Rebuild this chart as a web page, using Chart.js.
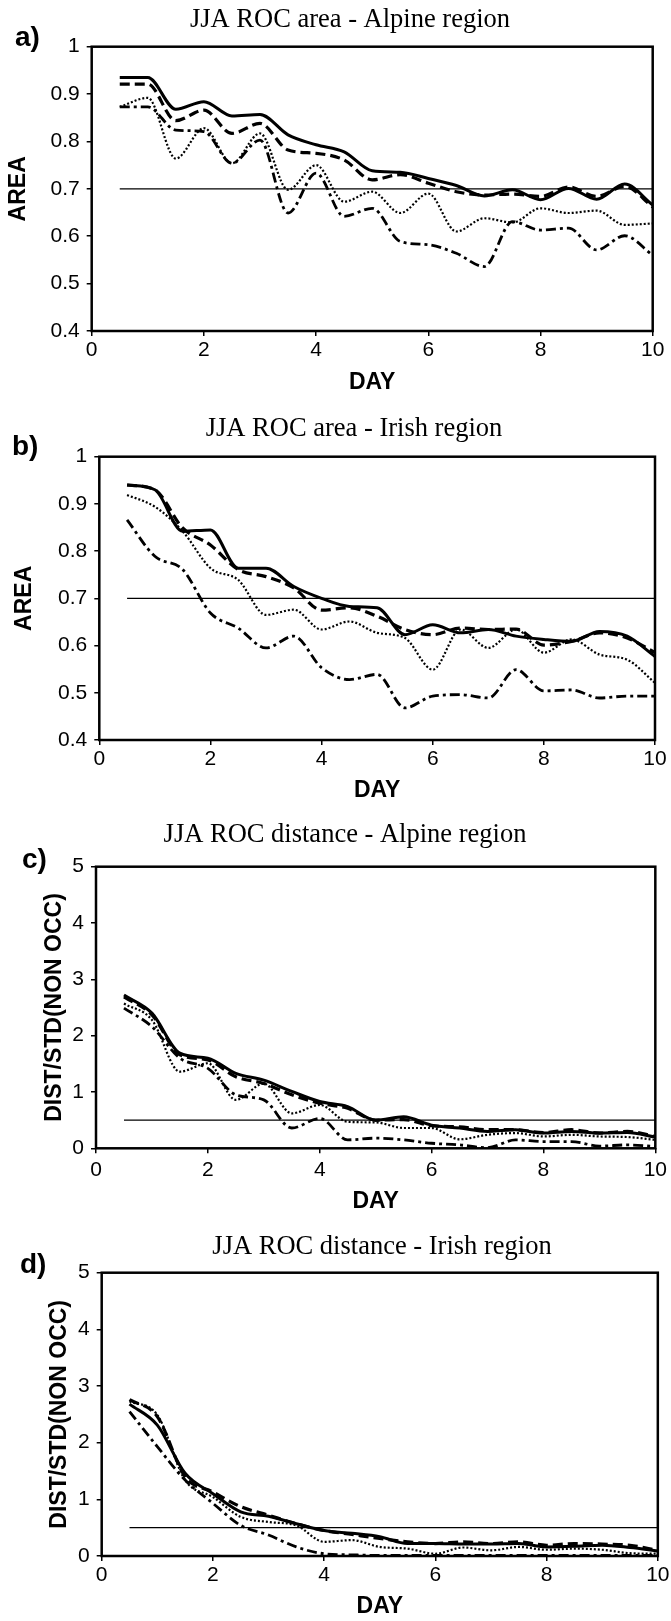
<!DOCTYPE html>
<html>
<head>
<meta charset="utf-8">
<title>JJA ROC area and distance</title>
<script src="https://cdn.jsdelivr.net/npm/chart.js@4.4.1/dist/chart.umd.min.js"></script>
<style>
  body { margin: 0; background: #fff; }
  .panel { position: absolute; left: 0; width: 671px; }
</style>
</head>
<body>
<div class="panel" id="boxA"><canvas id="chartA"></canvas></div>
<div class="panel" id="boxB"><canvas id="chartB"></canvas></div>
<div class="panel" id="boxC"><canvas id="chartC"></canvas></div>
<div class="panel" id="boxD"><canvas id="chartD"></canvas></div>
<script>
// forecast day (x axis)
const days = [0.5, 1, 1.5, 2, 2.5, 3, 3.5, 4, 4.5, 5, 5.5, 6, 6.5, 7, 7.5, 8, 8.5, 9, 9.5, 10];
const dayTicks = [0, 2, 4, 6, 8, 10];
const areaTicks = [0.4, 0.5, 0.6, 0.7, 0.8, 0.9, 1];
const distTicks = [0, 1, 2, 3, 4, 5];

const areaThreshold = 0.7;
const distThreshold = 0.5;

// ROC area - Alpine region
const alpineAreaSolid   = [0.935, 0.935, 0.868, 0.884, 0.854, 0.857, 0.814, 0.793, 0.778, 0.738, 0.735, 0.722, 0.707, 0.685, 0.698, 0.677, 0.701, 0.678, 0.710, 0.666];
const alpineAreaDashed  = [0.921, 0.921, 0.844, 0.866, 0.817, 0.838, 0.782, 0.775, 0.761, 0.719, 0.730, 0.712, 0.694, 0.687, 0.689, 0.684, 0.704, 0.684, 0.705, 0.662];
const alpineAreaDotted  = [0.873, 0.892, 0.764, 0.828, 0.754, 0.817, 0.698, 0.750, 0.673, 0.694, 0.649, 0.690, 0.610, 0.638, 0.629, 0.659, 0.649, 0.654, 0.624, 0.627];
const alpineAreaDashDot = [0.873, 0.873, 0.824, 0.821, 0.754, 0.803, 0.649, 0.733, 0.642, 0.659, 0.589, 0.582, 0.564, 0.536, 0.631, 0.613, 0.617, 0.571, 0.601, 0.560];

// ROC area - Irish region
const irishAreaSolid   = [0.940, 0.930, 0.842, 0.845, 0.764, 0.764, 0.725, 0.700, 0.683, 0.680, 0.623, 0.644, 0.627, 0.634, 0.620, 0.613, 0.609, 0.630, 0.620, 0.577];
const irishAreaDashed  = [0.940, 0.930, 0.849, 0.813, 0.761, 0.746, 0.722, 0.675, 0.680, 0.662, 0.634, 0.623, 0.637, 0.634, 0.635, 0.601, 0.609, 0.627, 0.616, 0.585];
const irishAreaDotted  = [0.919, 0.894, 0.842, 0.764, 0.739, 0.665, 0.676, 0.634, 0.651, 0.627, 0.616, 0.549, 0.634, 0.595, 0.634, 0.585, 0.613, 0.581, 0.570, 0.521];
const irishAreaDashDot = [0.866, 0.789, 0.761, 0.669, 0.637, 0.595, 0.620, 0.553, 0.528, 0.539, 0.468, 0.493, 0.496, 0.489, 0.549, 0.504, 0.506, 0.489, 0.493, 0.493];

// ROC distance - Alpine region
const alpineDistSolid   = [2.72, 2.40, 1.69, 1.60, 1.33, 1.21, 1.01, 0.83, 0.74, 0.50, 0.56, 0.41, 0.36, 0.30, 0.33, 0.27, 0.30, 0.27, 0.28, 0.20];
const alpineDistDashed  = [2.69, 2.37, 1.66, 1.57, 1.27, 1.15, 0.95, 0.80, 0.71, 0.50, 0.51, 0.40, 0.38, 0.33, 0.33, 0.28, 0.33, 0.27, 0.30, 0.21];
const alpineDistDotted  = [2.57, 2.28, 1.36, 1.51, 0.86, 1.15, 0.62, 0.77, 0.47, 0.46, 0.36, 0.36, 0.16, 0.24, 0.27, 0.21, 0.24, 0.21, 0.20, 0.15];
const alpineDistDashDot = [2.49, 2.16, 1.60, 1.42, 0.95, 0.86, 0.36, 0.53, 0.15, 0.18, 0.15, 0.09, 0.06, 0.01, 0.15, 0.12, 0.12, 0.04, 0.06, 0.03];

// ROC distance - Irish region
const irishDistSolid   = [2.68, 2.31, 1.46, 1.10, 0.78, 0.70, 0.57, 0.45, 0.40, 0.34, 0.22, 0.22, 0.21, 0.21, 0.22, 0.16, 0.17, 0.19, 0.15, 0.09];
const irishDistDashed  = [2.76, 2.46, 1.40, 1.13, 0.87, 0.72, 0.57, 0.45, 0.38, 0.31, 0.25, 0.22, 0.25, 0.22, 0.25, 0.19, 0.22, 0.21, 0.19, 0.10];
const irishDistDotted  = [2.73, 2.49, 1.34, 1.04, 0.69, 0.60, 0.54, 0.25, 0.28, 0.16, 0.13, 0.04, 0.15, 0.10, 0.16, 0.11, 0.13, 0.11, 0.05, 0.04];
const irishDistDashDot = [2.55, 1.93, 1.34, 0.93, 0.54, 0.37, 0.16, 0.04, 0.02, 0.01, 0.01, 0.01, 0.01, 0.01, 0.01, 0.01, 0.01, 0.01, 0.01, 0.01];

// line styles, drawn back to front
const lineStyles = {
  dashDot: { borderWidth: 2.8, borderDash: [10, 4, 3, 4] },
  dotted:  { borderWidth: 2.2, borderDash: [2, 2] },
  dashed:  { borderWidth: 3.2, borderDash: [10, 5] },
  solid:   { borderWidth: 3,   borderDash: [] }
};

const sans = '"Liberation Sans", Arial, Helvetica, sans-serif';
const serif = '"Liberation Serif", "Times New Roman", Times, serif';

// page geometry of each panel (absolute px)
const panels = [
  { box: 'boxA', canvas: 'chartA', top: 0, height: 410, plot: [91.7, 652.7, 46.7, 331], dayGap: 52, tickGap: 1.5, yTitleX: 19,
    letter: 'a)', letterPos: [15, 38], title: 'JJA ROC area - Alpine region', titlePos: [350, 26.7],
    yLabel: 'AREA', yTicks: areaTicks, threshold: areaThreshold,
    series: [alpineAreaDashDot, alpineAreaDotted, alpineAreaDashed, alpineAreaSolid] },
  { box: 'boxB', canvas: 'chartB', top: 410, height: 410, plot: [99.3, 655, 456.7, 740], dayGap: 51, tickGap: 1.5, yTitleX: 25,
    letter: 'b)', letterPos: [12, 447], title: 'JJA ROC area - Irish region', titlePos: [354, 436],
    yLabel: 'AREA', yTicks: areaTicks, threshold: areaThreshold,
    series: [irishAreaDashDot, irishAreaDotted, irishAreaDashed, irishAreaSolid] },
  { box: 'boxC', canvas: 'chartC', top: 820, height: 410, plot: [96, 656, 866.7, 1148.3], dayGap: 53, tickGap: 4, yTitleX: 55,
    letter: 'c)', letterPos: [22, 860], title: 'JJA ROC distance - Alpine region', titlePos: [345, 842],
    yLabel: 'DIST/STD(NON OCC)', yTicks: distTicks, threshold: distThreshold,
    series: [alpineDistDashDot, alpineDistDotted, alpineDistDashed, alpineDistSolid] },
  { box: 'boxD', canvas: 'chartD', top: 1230, height: 391, plot: [101.7, 658, 1272.7, 1556], dayGap: 51, tickGap: 1.5, yTitleX: 60,
    letter: 'd)', letterPos: [20, 1265], title: 'JJA ROC distance - Irish region', titlePos: [382, 1254],
    yLabel: 'DIST/STD(NON OCC)', yTicks: distTicks, threshold: distThreshold,
    series: [irishDistDashDot, irishDistDotted, irishDistDashed, irishDistSolid] }
];

// box around the plotting area
const frame = {
  id: 'frame',
  afterDatasetsDraw(chart) {
    const { ctx, chartArea: a } = chart;
    ctx.save();
    ctx.strokeStyle = '#000';
    ctx.lineWidth = 2.5;
    ctx.strokeRect(a.left, a.top, a.right - a.left, a.bottom - a.top);
    ctx.restore();
  }
};

// panel letter and heading
const panelText = {
  id: 'panelText',
  afterDraw(chart, args, opts) {
    const ctx = chart.ctx;
    ctx.save();
    ctx.fillStyle = '#000';
    ctx.font = 'bold 28px ' + sans;
    ctx.textAlign = 'left';
    ctx.textBaseline = 'middle';
    ctx.fillText(opts.letter, opts.letterX, opts.letterY);
    ctx.font = '26.5px ' + serif;
    ctx.textAlign = 'center';
    ctx.textBaseline = 'alphabetic';
    ctx.fillText(opts.title, opts.titleX, opts.titleY);
    ctx.restore();
  }
};

const toPoints = (vals) => days.map((d, i) => ({ x: d, y: vals[i] }));

function makePanel(p) {
  const box = document.getElementById(p.box);
  box.style.top = p.top + 'px';
  box.style.height = p.height + 'px';

  const [left, right, top, bottom] = p.plot;
  const axisFont = { family: sans, size: 23, weight: 'bold', lineHeight: 1.2 };
  const xAxisHeight = p.dayGap + axisFont.size * 0.6;

  const styleNames = ['dashDot', 'dotted', 'dashed', 'solid'];
  const datasets = [{
    data: [{ x: days[0], y: p.threshold }, { x: days[days.length - 1], y: p.threshold }],
    borderColor: '#000', borderWidth: 1.3, pointRadius: 0, tension: 0
  }].concat(p.series.map((vals, i) => Object.assign({
    data: toPoints(vals),
    borderColor: '#000',
    pointRadius: 0,
    cubicInterpolationMode: 'monotone',
    borderCapStyle: 'butt'
  }, lineStyles[styleNames[i]])));

  const yTicks = p.yTicks;
  return new Chart(document.getElementById(p.canvas), {
    type: 'line',
    data: { datasets },
    options: {
      responsive: true,
      maintainAspectRatio: false,
      animation: false,
      events: [],
      layout: {
        padding: {
          left: 0,
          top: top - p.top,
          right: 671 - right,
          bottom: p.height - (bottom - p.top) - xAxisHeight
        }
      },
      plugins: {
        legend: { display: false },
        tooltip: { enabled: false },
        panelText: {
          letter: p.letter, letterX: p.letterPos[0], letterY: p.letterPos[1] - p.top,
          title: p.title, titleX: p.titlePos[0], titleY: p.titlePos[1] - p.top
        }
      },
      scales: {
        x: {
          type: 'linear',
          min: 0,
          max: 10,
          afterBuildTicks: (s) => { s.ticks = dayTicks.map(v => ({ value: v })); },
          afterFit: (s) => { s.height = xAxisHeight; },
          ticks: { color: '#000', font: { family: sans, size: 21 }, padding: p.tickGap, maxRotation: 0 },
          grid: { display: true, drawOnChartArea: false, color: '#000', lineWidth: 1.5, tickLength: 5 },
          border: { display: false },
          title: { display: true, text: 'DAY', color: '#000', font: axisFont, padding: 0 }
        },
        y: {
          type: 'linear',
          min: yTicks[0],
          max: yTicks[yTicks.length - 1],
          afterBuildTicks: (s) => { s.ticks = yTicks.map(v => ({ value: v })); },
          afterFit: (s) => { s.width = left; },
          ticks: { color: '#000', font: { family: sans, size: 21 }, padding: 7, callback: (v) => String(+v.toFixed(2)) },
          grid: { display: true, drawOnChartArea: false, color: '#000', lineWidth: 1.5, tickLength: 5 },
          border: { display: false },
          title: { display: true, text: p.yLabel, color: '#000', font: axisFont, padding: { top: p.yTitleX - axisFont.size * 0.6, bottom: 0 } }
        }
      }
    },
    plugins: [frame, panelText]
  });
}

panels.forEach(makePanel);
</script>
</body>
</html>
